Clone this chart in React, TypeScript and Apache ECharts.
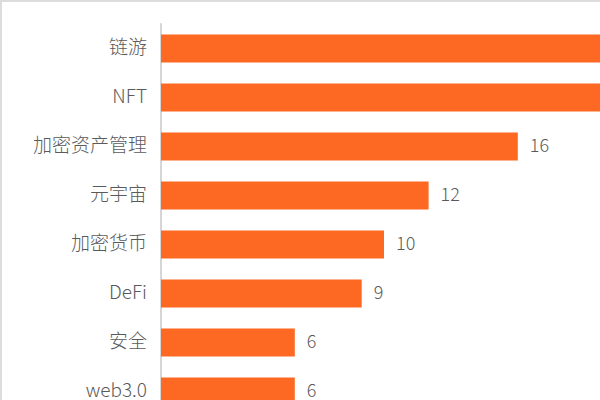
import React, { useEffect, useRef } from "react";
import * as echarts from "echarts";

const categories = ["链游", "NFT", "加密资产管理", "元宇宙", "加密货币", "DeFi", "安全", "web3.0"];
const values = [24, 22, 16, 12, 10, 9, 6, 6];

export default function App() {
  const ref = useRef<HTMLDivElement>(null);
  useEffect(() => {
    document.body.style.margin = "0";
    const chart = echarts.init(ref.current!, null, { renderer: "svg" });
    const txt = {
      color: "#5a5a5a",
      fontSize: 18,
      fontWeight: 300,
      fontFamily: "Noto Sans CJK SC",
    };
    chart.setOption({
      animation: false,
      backgroundColor: "#ffffff",
      grid: { left: 159, top: 22, width: 669, height: 392 },
      xAxis: { type: "value", min: 0, max: 30, show: false },
      yAxis: {
        type: "category",
        data: categories,
        inverse: true,
        axisLine: { show: true, lineStyle: { color: "#d6d6d6", width: 2 } },
        axisTick: { show: false },
        axisLabel: {
          ...txt,
          fontSize: 19,
          margin: 14,
          formatter: (v: string) => `{a|${v}}`,
          rich: { a: { ...txt, fontSize: 19, padding: [0, 0, 6, 0] } },
        },
      },
      series: [
        {
          type: "bar",
          data: values,
          barWidth: 28,
          itemStyle: { color: "#FD6822" },
          label: {
            show: true,
            position: "right",
            distance: 12,
            offset: [0, -3],
            ...txt,
          },
        },
      ],
    });
    return () => chart.dispose();
  }, []);
  return (
    <div
      style={{
        position: "fixed",
        left: 0,
        top: 0,
        width: 902,
        height: 452,
        borderTop: "2px solid #dcdcdc",
        borderLeft: "2px solid #dcdcdc",
        boxSizing: "border-box",
        background: "#fff",
      }}
    >
      <div ref={ref} style={{ width: 900, height: 450 }} />
    </div>
  );
}
